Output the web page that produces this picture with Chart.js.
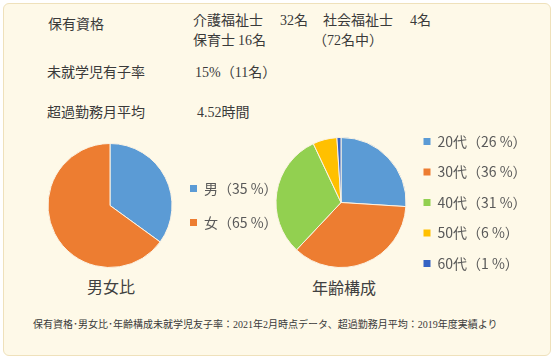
<!DOCTYPE html>
<html lang="ja">
<head>
<meta charset="utf-8">
<script src="https://cdn.jsdelivr.net/npm/chart.js@4/dist/chart.umd.min.js"></script>
<style>
  html, body { margin: 0; padding: 0; background: #ffffff; }
  #page { position: relative; width: 560px; height: 361px; overflow: hidden; }
  #panel { position: absolute; left: 3px; top: 3px; width: 546px; height: 351px;
           background: #fef9e8; border: 1px solid #efe1bb; border-radius: 6px; }
  .t { position: absolute; white-space: nowrap; font-family: "Liberation Serif", "Noto Sans CJK JP", serif;
       font-size: 14px; line-height: 16px; color: #3a3a3a; }
  .foot { font-size: 10px; line-height: 12px; }
  .ttl { position: absolute; width: 120px; text-align: center; white-space: nowrap;
         font-family: "Noto Sans CJK JP", sans-serif; font-size: 16px; line-height: 20px; color: #404040; }
  canvas { position: absolute; left: 0; top: 0; }
</style>
</head>
<body>
<div id="page">
  <div id="panel"></div>
  <div class="t" style="left:48px;top:17px;">保有資格</div>
  <div class="t" style="left:193px;top:13px;">介護福祉士</div>
  <div class="t" style="left:280px;top:13px;">32名</div>
  <div class="t" style="left:323px;top:13px;">社会福祉士</div>
  <div class="t" style="left:410px;top:13px;">4名</div>
  <div class="t" style="left:193px;top:33px;">保育士</div>
  <div class="t" style="left:238px;top:33px;">16名</div>
  <div class="t" style="left:313px;top:33px;">（72名中）</div>
  <div class="t" style="left:47px;top:65px;">未就学児有子率</div>
  <div class="t" style="left:195px;top:65px;">15%（11名）</div>
  <div class="t" style="left:47px;top:105px;">超過勤務月平均</div>
  <div class="t" style="left:197px;top:105px;">4.52時間</div>
  <div class="t foot" style="left:33px;top:319px;">保有資格･男女比･年齢構成未就学児友子率：2021年2月時点データ、超過勤務月平均：2019年度実績より</div>
  <div class="ttl" style="left:51px;top:276px;">男女比</div>
  <div class="ttl" style="left:284px;top:277px;">年齢構成</div>
  <canvas id="c1" width="560" height="361"></canvas>
  <canvas id="c2" width="560" height="361"></canvas>
</div>
<script>
const genderLabels = ['男', '女'];
const genderValues = [35, 65];
const ageLabels = ['20代', '30代', '40代', '50代', '60代'];
const ageValues = [26, 36, 31, 6, 1];

const genderColors = ['#5b9bd5', '#ed7d31'];
const ageColors = ['#5b9bd5', '#ed7d31', '#92d050', '#ffc000', '#3563c4'];

const FONT = '"Noto Sans CJK JP", "Noto Sans", sans-serif';

function makeLabels(chart) {
  const ds = chart.data.datasets[0];
  return chart.data.labels.map((lab, i) => ({
    text: lab + '（' + ds.data[i] + ' %）',
    fillStyle: ds.backgroundColor[i],
    strokeStyle: 'rgba(0,0,0,0)',
    lineWidth: 0,
    fontColor: '#595959',
    hidden: false,
    index: i
  }));
}

function fitArea(chart, area) {
  for (let k = 0; k < 6; k++) {
    const ca = chart.chartArea;
    const wantRight = area.left + area.width;
    const err = ca.right - wantRight;
    if (Math.abs(err) < 0.05) break;
    chart.options.layout.padding.right = Math.max(0, chart.options.layout.padding.right + err);
    chart.update();
  }
}

function makePie(id, labels, values, colors, radius, legendPad, area) {
  const pad = { left: area.left, right: 120, top: area.top, bottom: 361 - area.top - area.height };
  const chart = new Chart(document.getElementById(id), {
    type: 'pie',
    data: {
      labels: labels,
      datasets: [{ data: values, backgroundColor: colors, borderColor: '#fbf3e4', borderWidth: 1, radius: radius }]
    },
    options: {
      responsive: false,
      animation: false,
      events: [],
      layout: { padding: pad },
      plugins: {
        tooltip: { enabled: false },
        title: { display: false },
        legend: {
          position: 'right',
          fullSize: false,
          labels: {
            boxWidth: 7, boxHeight: 7, padding: legendPad,
            font: { family: FONT, size: 14 },
            color: '#595959',
            generateLabels: makeLabels
          }
        }
      }
    }
  });
  fitArea(chart, area);
  if (document.fonts && document.fonts.ready) {
    document.fonts.ready.then(() => fitArea(chart, area));
  }
  return chart;
}

makePie('c1', genderLabels, genderValues, genderColors, 62, 20,
  { left: 50, width: 120, top: 135.5, height: 140 });

makePie('c2', ageLabels, ageValues, ageColors, 65, 16.5,
  { left: 275, width: 132, top: 112.5, height: 180 });
</script>
</body>
</html>
